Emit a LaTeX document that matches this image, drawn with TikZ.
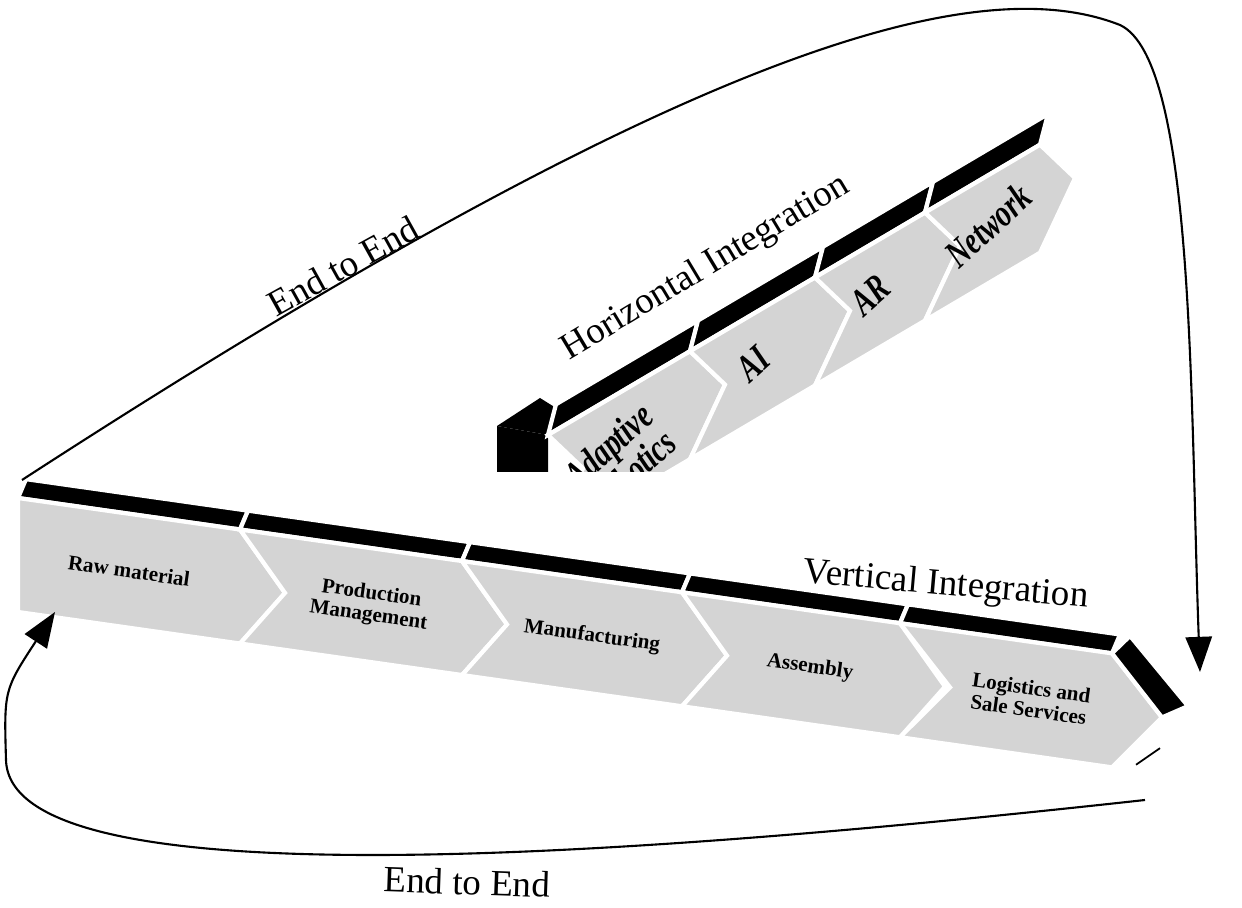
\documentclass[tikz,border=0pt]{standalone}
\usepackage{fontspec}
\setmainfont{Liberation Serif}
\usetikzlibrary{arrows.meta}
\definecolor{chevgrey}{RGB}{212,212,212}
\tikzset{
  chev/.style={fill=chevgrey, draw=white, line width=2.4pt, line join=miter},
  band/.style={fill=black, draw=white, line width=2.4pt},
  steplabel/.style={font=\bfseries\fontsize{12}{12.5}\selectfont, align=center, rotate=-8},
  toplabel/.style={font=\bfseries\itshape\fontsize{22}{20}\selectfont, align=center, rotate=42, xscale=0.75},
  biglabel/.style={font=\fontsize{21}{22}\selectfont},
  loop arrow/.style={line width=1.2pt, -{Triangle[length=20pt,width=15pt]}}
}
% one chevron step: from, to, depth, height, band thickness
\newcommand{\chevstep}[5]{%
  \path[band] (#1+8,-#5) -- (#2+8,-#5) -- (#2,0) -- (#1,0) -- cycle;
  \path[chev] (#1,0) -- (#2,0) -- (#2+#3,#4/2) -- (#2,#4) -- (#1,#4) -- (#1+#3,#4/2) -- cycle;}
\begin{document}
\begin{tikzpicture}[x=0.02cm, y=-0.02cm]
\useasboundingbox (0,0) rectangle (1242,908);
% bottom chain
\begin{scope}[cm={1,-0.142,0,1,(18,498)}]
\path[band] (8,-20) -- (230,-20) -- (222,0) -- (0,0) -- cycle;
\path[chev] (0,0) -- (222,0) -- (267,57) -- (222,114) -- (0,114) -- cycle;
\chevstep{222}{444}{45}{114}{20}
\chevstep{444}{664}{45}{114}{20}
\chevstep{664}{882}{45}{114}{20}
\chevstep{882}{1094}{50}{114}{20}
\path[band] (1094,0) -- (1112,-20) -- (1170,42) -- (1144,57) -- cycle;
\draw[line width=1pt] (1118,108) -- (1142,88);
\node[steplabel] (raw) at (111,57) {Raw material};
\node[steplabel] (prod) at (352,57) {Production\\Management};
\node[steplabel] (manu) at (574,57) {Manufacturing};
\node[steplabel] (assy) at (792,57) {Assembly};
\node[steplabel] (logi) at (1012,57) {Logistics and\\Sale Services};
\end{scope}
% top chain
\begin{scope}
\clip (0,0) rectangle (1242,472);
\path[fill=black] (497,426) -- (548,435) -- (548,472) -- (497,472) -- cycle;
\path[fill=black] (497,426) -- (540,398) -- (556,408) -- (548,435) -- cycle;
\begin{scope}[cm={1,0.59,0,1,(548,435)}]
\chevstep{0}{142}{35}{108}{26}
\chevstep{142}{267}{35}{108}{26}
\chevstep{267}{377}{35}{108}{26}
\chevstep{377}{492}{35}{108}{26}
\node[toplabel] (adapt) at (72,66) {Adaptive\\Robotics};
\node[toplabel] (ai) at (205,50) {AI};
\node[toplabel] (ar) at (322,50) {AR};
\node[toplabel] (net) at (440,50) {Network};
\end{scope}
\end{scope}
% end to end loops
\coordinate (topstart) at (22,480);
\coordinate (topend) at (1200,672);
\coordinate (botstart) at (1145,800);
\coordinate (botend) at (55,612);
\draw[loop arrow] (topstart) .. controls (700,40) and (980,-30) .. (1120,25)
  .. controls (1195,60) and (1190,400) .. (topend);
\draw[loop arrow] (botstart) .. controls (600,860) and (10,900) .. (6,760)
  .. controls (4,690) .. (botend);
\node[biglabel, rotate=29] (e2etop) at (343,266) {End to End};
\node[biglabel, rotate=31] (horiz) at (706,268) {Horizontal Integration};
\node[biglabel, rotate=-5] (vert) at (946,586) {Vertical Integration};
\node[biglabel, rotate=-2] (e2ebot) at (467,882) {End to End};
\end{tikzpicture}
\end{document}
